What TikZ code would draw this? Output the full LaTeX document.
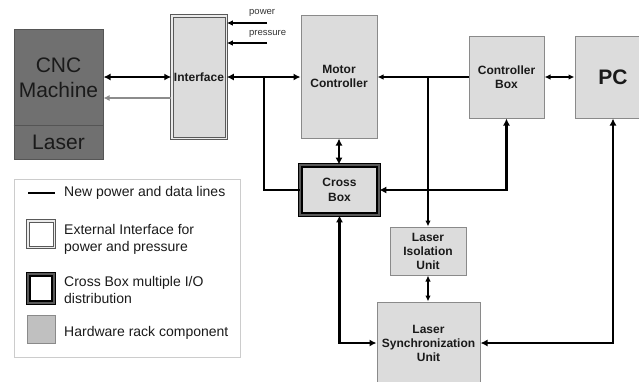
\documentclass[tikz,border=0pt]{standalone}
\usepackage{fontspec}
\setmainfont{Liberation Sans}
\usetikzlibrary{arrows.meta}
\definecolor{boxfill}{HTML}{DCDCDC}
\definecolor{boxline}{HTML}{8A8A8A}
\definecolor{cncfill}{HTML}{707070}
\definecolor{cncline}{HTML}{555555}
\definecolor{rackfill}{HTML}{C0C0C0}
\definecolor{txt}{HTML}{1A1A1A}
\tikzset{
  hw/.style={draw=boxline, line width=1pt, fill=boxfill, inner sep=0pt, align=center,
    font=\bfseries\fontsize{12}{14}\selectfont, text=txt},
  ifc/.style={draw=black!65, double=white!92!black, line width=1pt, double distance=1.5pt, inner sep=0pt, align=center},
  xbox/.style={draw=black, double=black!65, line width=1.3pt, double distance=2pt, inner sep=0pt, align=center},
  thinline/.style={line width=1.2pt, draw=black},
  medline/.style={line width=1.6pt, draw=black},
  bigline/.style={line width=2.8pt, draw=black},
  arrh/.tip={Latex[length=7pt,width=7pt]},
  arrs/.tip={Latex[length=6pt,width=5.5pt]},
  legtxt/.style={anchor=west, align=left, inner sep=0pt, font=\fontsize{14}{17}\selectfont, text=txt},
}
\begin{document}
\begin{tikzpicture}[x=1pt,y=-1pt]
\useasboundingbox (0,0) rectangle (639,381);
\clip (0,0) rectangle (639,381);

% CNC machine
\node[draw=cncline, fill=cncfill, line width=1pt, minimum width=89pt, minimum height=130pt, inner sep=0pt] (cnc) at (58.5,94) {};
\draw[draw=cncline, line width=1pt] (cnc.west |- 0,125) coordinate (cdl) -- (cdl -| cnc.east);
\node[align=center, font=\fontsize{21}{25}\selectfont, text=txt, inner sep=0pt] (cnctxt) at (58.5,77.5) {CNC\\Machine};
\node[font=\fontsize{21}{25}\selectfont, text=txt, inner sep=0pt] (lasertxt) at (58.5,142) {Laser};

% Interface
\node[ifc, fill=boxfill, minimum width=54.5pt, minimum height=122.5pt, font=\bfseries\fontsize{12}{14}\selectfont, text=txt] (intf) at (199,77) {Interface};

% Hardware boxes
\node[hw, minimum width=76pt, minimum height=123pt] (mc) at (339,76.5) {Motor\\Controller};
\node[hw, minimum width=75pt, minimum height=82pt] (cb) at (506.5,77) {Controller\\Box};
\node[hw, minimum width=76pt, minimum height=82pt, font=\bfseries\fontsize{21}{25}\selectfont] (pc) at (613,77) {PC};
\node[xbox, fill=boxfill, minimum width=78.4pt, minimum height=49.4pt, font=\bfseries\fontsize{12}{15}\selectfont, text=txt] (cross) at (339.5,190) {Cross\\Box};
\node[hw, minimum width=76pt, minimum height=48pt] (liu) at (428,251) {Laser\\Isolation\\Unit};
\node[hw, minimum width=103pt, minimum height=82pt] (lsu) at (428.5,343) {Laser\\Synchronization\\Unit};

% power / pressure
\coordinate (pw) at (267,23);
\coordinate (pr) at (267,43);
\draw[medline, -arrs] (pw) -- (pw -| intf.east);
\draw[medline, -arrs] (pr) -- (pr -| intf.east);
\node[anchor=west, inner sep=0pt, font=\fontsize{9.5}{11}\selectfont, text=black!80] (pwt) at (249,13) {power};
\node[anchor=west, inner sep=0pt, font=\fontsize{9.5}{11}\selectfont, text=black!80] (prt) at (249,34) {pressure};

% connectors
\draw[bigline, arrh-arrh] (cnc.east |- intf.west) -- (intf.west);
\draw[line width=2pt, draw=black!45, -{Latex[length=6pt,width=6pt,fill=black!45]}] ([yshift=-21pt]intf.west) coordinate (ga) -- (ga -| cnc.east);
\draw[bigline, arrh-arrh] (intf.east) -- (intf.east -| mc.west);
\coordinate (br1) at (264,77);
\draw[bigline] (br1) |- (cross.west);
\draw[thinline, -arrs] (cb.west) -- (cb.west -| mc.east);
\draw[thinline, -arrs] (cb.west -| liu.north) -- (liu.north);
\draw[thinline, arrs-arrs] (cb.east) -- (pc.west);
\draw[bigline, arrh-arrh] (mc.south) -- (mc.south |- cross.north);
\draw[bigline, arrh-arrh] (cross.east) -| (cb.south);
\draw[bigline, arrh-arrh] (cross.south) |- (lsu.west);
\draw[bigline, arrh-arrh] (pc.south) |- (lsu.east);
\draw[medline, arrs-arrs] (liu.south) -- (liu.south |- lsu.north);

% legend
\node[draw=black!20, line width=1pt, minimum width=226pt, minimum height=178pt, inner sep=0pt] (legend) at (127,268) {};
\coordinate (l1a) at (28,193);
\coordinate (l1b) at (55,193);
\draw[bigline] (l1a) -- (l1b);
\node[legtxt] (lt1) at (64,193) {New power and data lines};
\node[ifc, fill=white, minimum width=26.5pt, minimum height=26.5pt] (ls2) at (41,234) {};
\node[legtxt] (lt2) at (64,239) {External Interface for\\power and pressure};
\node[xbox, fill=white, minimum width=25.4pt, minimum height=28.4pt] (ls3) at (41,288.5) {};
\node[legtxt] (lt3) at (64,290) {Cross Box multiple I/O\\distribution};
\node[draw=boxline, fill=rackfill, line width=1pt, minimum width=28pt, minimum height=28pt, inner sep=0pt] (ls4) at (41,329) {};
\node[legtxt] (lt4) at (64,333) {Hardware rack component};
\end{tikzpicture}
\end{document}
